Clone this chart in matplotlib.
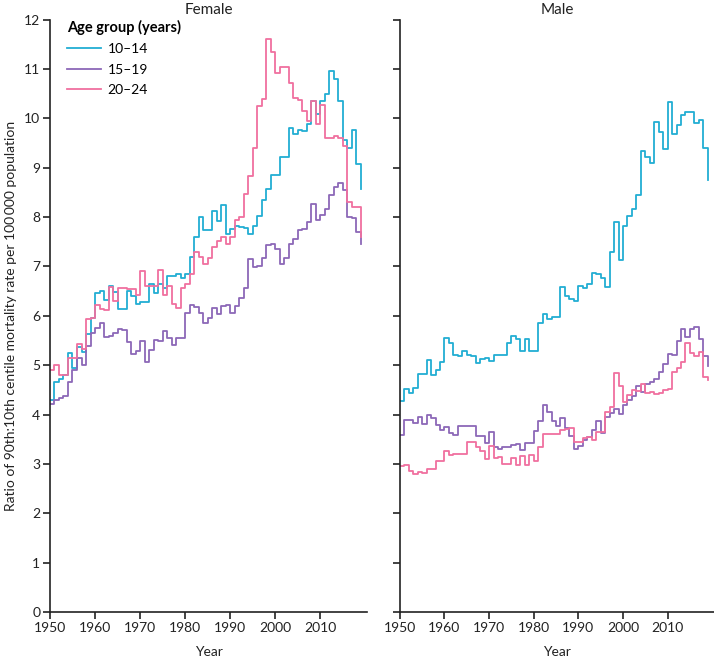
import numpy as np
import matplotlib
matplotlib.use("Agg")
import matplotlib.pyplot as plt

plt.rcParams['font.family'] = ['Lato', 'DejaVu Sans']

# --- data, one value per year 1950-2019 ---
years = np.arange(1950, 2020)

female_10_14 = [4.30, 4.65, 4.72, 4.80, 5.25, 4.95, 5.36, 5.27, 5.63, 5.95,
                6.46, 6.51, 6.32, 6.60, 6.48, 6.13, 6.14, 6.51, 6.41, 6.23,
                6.28, 6.28, 6.64, 6.47, 6.64, 6.57, 6.81, 6.81, 6.84, 6.77,
                6.84, 7.20, 7.59, 8.00, 7.73, 7.74, 8.12, 7.93, 8.24, 7.66,
                7.75, 7.83, 7.81, 7.78, 7.66, 7.83, 8.03, 8.35, 8.57, 8.86,
                8.86, 9.22, 9.22, 9.80, 9.68, 9.77, 9.75, 9.88, 10.35, 10.10,
                10.35, 10.50, 10.96, 10.80, 10.35, 9.56, 9.40, 9.77, 9.07, 8.57]
female_15_19 = [4.22, 4.30, 4.33, 4.38, 4.66, 4.90, 5.15, 5.00, 5.38, 5.66,
                5.76, 5.85, 5.57, 5.60, 5.65, 5.73, 5.72, 5.48, 5.22, 5.28,
                5.50, 5.07, 5.31, 5.52, 5.50, 5.70, 5.55, 5.41, 5.55, 5.55,
                6.06, 6.21, 6.18, 6.06, 5.86, 5.96, 6.15, 6.03, 6.20, 6.21,
                6.06, 6.20, 6.37, 6.57, 7.15, 6.99, 7.01, 7.18, 7.44, 7.46,
                7.35, 7.05, 7.18, 7.46, 7.56, 7.73, 7.76, 7.90, 8.27, 7.95,
                8.05, 8.17, 8.44, 8.61, 8.70, 8.56, 8.01, 7.99, 7.69, 7.46]
female_20_24 = [4.90, 5.00, 4.80, 4.80, 5.15, 5.15, 5.43, 5.33, 5.93, 5.95,
                6.21, 6.14, 6.12, 6.58, 6.30, 6.57, 6.57, 6.54, 6.54, 6.42,
                6.91, 6.60, 6.60, 6.60, 6.93, 6.43, 6.60, 6.24, 6.16, 6.57,
                6.64, 6.84, 7.29, 7.20, 7.05, 7.18, 7.40, 7.52, 7.59, 7.46,
                7.59, 7.95, 8.00, 8.46, 8.83, 9.40, 10.25, 10.40, 11.60, 11.35,
                10.93, 11.04, 11.04, 10.72, 10.42, 10.38, 10.15, 9.95, 10.35, 9.88,
                10.28, 9.60, 9.60, 9.64, 9.60, 9.45, 8.30, 8.20, 8.20, 7.60]

male_10_14 = [4.27, 4.52, 4.43, 4.53, 4.83, 4.83, 5.10, 4.81, 4.90, 5.06,
              5.55, 5.44, 5.21, 5.18, 5.28, 5.21, 5.19, 5.04, 5.12, 5.14,
              5.09, 5.21, 5.20, 5.20, 5.45, 5.60, 5.54, 5.29, 5.54, 5.28,
              5.28, 5.85, 6.04, 5.94, 5.97, 5.97, 6.59, 6.40, 6.34, 6.30,
              6.60, 6.56, 6.65, 6.86, 6.84, 6.77, 6.59, 7.29, 7.90, 7.14,
              7.82, 8.02, 8.17, 8.44, 9.34, 9.22, 9.09, 9.93, 9.72, 9.38,
              10.33, 9.69, 9.86, 10.06, 10.13, 10.13, 9.91, 9.97, 9.40, 8.75]
male_15_19 = [3.59, 3.88, 3.88, 3.82, 3.95, 3.80, 4.00, 3.93, 3.79, 3.69,
              3.74, 3.62, 3.59, 3.77, 3.77, 3.77, 3.77, 3.56, 3.56, 3.42,
              3.64, 3.34, 3.31, 3.35, 3.35, 3.39, 3.41, 3.29, 3.42, 3.42,
              3.66, 3.86, 4.19, 4.06, 3.86, 3.76, 3.94, 3.72, 3.56, 3.30,
              3.37, 3.49, 3.54, 3.69, 3.86, 3.62, 3.95, 4.04, 4.11, 4.01,
              4.20, 4.30, 4.37, 4.57, 4.45, 4.62, 4.66, 4.72, 4.87, 5.02,
              5.23, 5.21, 5.50, 5.73, 5.58, 5.73, 5.77, 5.53, 5.18, 4.98]
male_20_24 = [2.95, 2.97, 2.86, 2.80, 2.83, 2.81, 2.89, 2.89, 3.05, 3.05,
              3.27, 3.18, 3.21, 3.21, 3.21, 3.45, 3.44, 3.35, 3.27, 3.09,
              3.36, 3.11, 3.13, 2.99, 2.99, 3.11, 2.98, 3.15, 2.98, 3.18,
              3.05, 3.35, 3.61, 3.61, 3.61, 3.61, 3.68, 3.71, 3.72, 3.45,
              3.45, 3.52, 3.55, 3.49, 3.64, 3.64, 4.06, 4.16, 4.84, 4.57,
              4.26, 4.40, 4.50, 4.48, 4.62, 4.43, 4.45, 4.42, 4.43, 4.50,
              4.52, 4.87, 4.94, 5.07, 5.45, 5.24, 5.18, 5.26, 4.77, 4.70]

age_labels = ['10\u201314', '15\u201319', '20\u201324']
colors = ['#22aed3', '#8c68b8', '#f0709f']
panels = [('Female', [female_10_14, female_15_19, female_20_24]),
          ('Male', [male_10_14, male_15_19, male_20_24])]

# --- figure ---
fig = plt.figure(figsize=(7.14, 6.58), dpi=100)
ax_f = fig.add_axes([0.070, 0.070, 0.444, 0.900])
ax_m = fig.add_axes([0.560, 0.070, 0.440, 0.900])

for ax, (title, series) in zip([ax_f, ax_m], panels):
    for vals, lab, col in zip(series, age_labels, colors):
        ax.step(years, vals, where='post', color=col, lw=1.3, label=lab)
    ax.set_xlim(1950, 2020.4)
    ax.set_ylim(0, 12)
    ax.set_xticks(np.arange(1950, 2011, 10))
    ax.set_yticks(np.arange(0, 13, 1))
    for s in ['top', 'right']:
        ax.spines[s].set_visible(False)
    for s in ['left', 'bottom']:
        ax.spines[s].set_linewidth(1.2)
        ax.spines[s].set_color('#222222')
    ax.tick_params(direction='out', length=5, width=1.2, labelsize=10,
                   colors='#222222', pad=2)
    ax.set_xlabel('Year', fontsize=10, labelpad=9, color='#222222')
    ax.set_title(title, fontsize=11, pad=4, color='#222222')

ax_m.tick_params(axis='y', labelleft=False)
ax_f.set_ylabel('Ratio of 90th:10th centile mortality rate per 100\u2009000 population',
                fontsize=10, labelpad=5, color='#222222')

leg = ax_f.legend(title='Age group (years)', loc='upper left',
                  bbox_to_anchor=(0.055, 1.0), frameon=False, fontsize=10,
                  handlelength=2.4, handletextpad=0.5, labelspacing=0.62,
                  borderpad=0, borderaxespad=0, alignment='left',
                  title_fontproperties={'weight': 'bold', 'size': 10.5})
leg._legend_box.sep = 6

fig.savefig('out.png', dpi=100)
